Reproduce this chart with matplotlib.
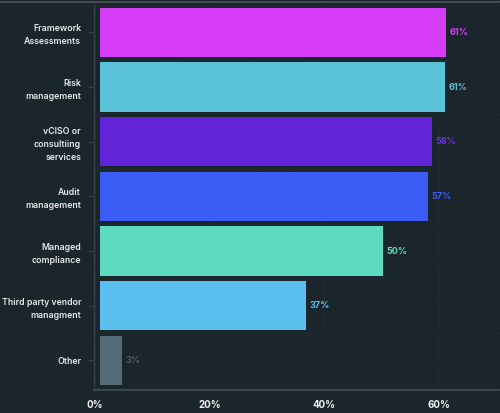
import matplotlib
matplotlib.use("Agg")
import matplotlib.pyplot as plt
from matplotlib.lines import Line2D
from matplotlib.ticker import FixedLocator
import numpy as np

categories = ["Framework\nAssessments", "Risk\nmanagement", "vCISO or\nconsultiing\nservices",
              "Audit\nmanagement", "Managed\ncompliance", "Third party vendor\nmanagment", "Other"]
values = [61.3, 61.1, 58.8, 58.1, 50.3, 36.8, 4.7]
value_labels = ["61%", "61%", "58%", "57%", "50%", "37%", "3%"]
colors = ["#d63cf6", "#5bc3d9", "#6224d8", "#3b5cf5", "#5ddbc0", "#5bc0ef", "#566b78"]
label_colors = ["#d63cf6", "#5bc3d9", "#6a2ee0", "#3b5cf5", "#5ddbc0", "#5bc0ef", "#4a5a64"]
xticks = [0, 20, 40, 60]
xticklabels = ["0%", "20%", "40%", "60%"]

BG = "#1b252c"
plt.rcParams['font.family'] = ['Inter', 'DejaVu Sans']

fig = plt.figure(figsize=(5.0, 4.13), dpi=100, facecolor=BG)
ax = fig.add_axes([93.5/500, 23/413, 1 - 93.5/500, 385/413])
ax.set_facecolor(BG)

offset = 0.9
y = np.arange(len(categories))
ax.barh(y, np.array(values) - offset, left=offset, height=0.9, color=colors, zorder=3)

for yi, v, lab, c in zip(y, values, value_labels, label_colors):
    ax.text(v + 0.6, yi, lab, va="center", ha="left", color=c, fontsize=6.5,
            fontweight="bold", zorder=4)

ax.set_xlim(-0.26, 70.7)
ax.set_ylim(6.54, -0.5)

ax.set_yticks(y)
ax.set_yticklabels(categories, color="#e6e9eb", fontsize=6.3, fontweight="semibold",
                   linespacing=1.55)
ax.set_xticks(xticks)
ax.set_xticklabels(xticklabels, color="#f0f2f3", fontsize=7, fontweight="bold")
ax.tick_params(axis="y", length=4, width=0.6, color="#3a464e", pad=5)
ax.tick_params(axis="x", length=0, pad=7)

ax.yaxis.set_minor_locator(FixedLocator(np.arange(-0.5, len(categories), 1.0)))
ax.grid(axis="x", which="major", color="#243038", linestyle=(0, (2, 2)), linewidth=0.7, zorder=0)
ax.grid(axis="y", which="minor", color="#243038", linestyle=(0, (2, 2)), linewidth=0.7, zorder=0)
ax.tick_params(axis="y", which="minor", length=0)

for s in ["top", "right"]:
    ax.spines[s].set_visible(False)
ax.spines["left"].set_color("#333f47")
ax.spines["left"].set_linewidth(1.0)
ax.spines["bottom"].set_color("#3a464e")
ax.spines["bottom"].set_linewidth(1.5)

fig.add_artist(Line2D([0, 1], [1 - 1.5/413, 1 - 1.5/413], transform=fig.transFigure,
                      color="#4a555c", linewidth=1.2))

fig.savefig("out.png", dpi=100, facecolor=BG)
